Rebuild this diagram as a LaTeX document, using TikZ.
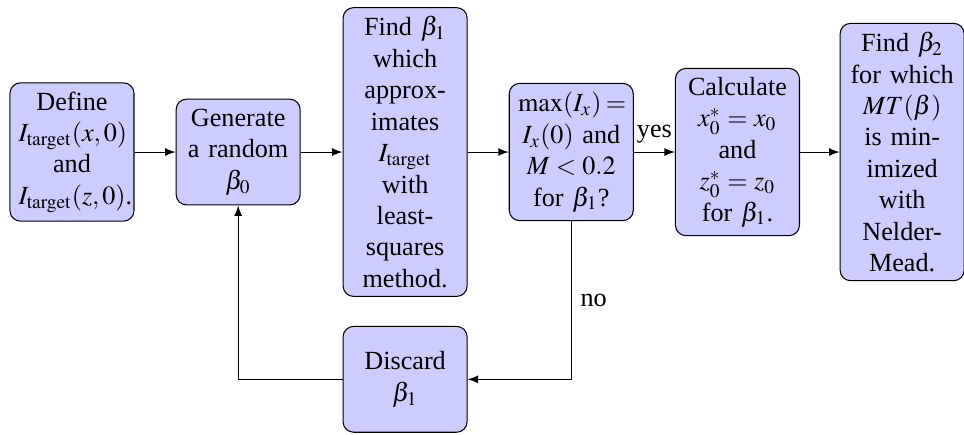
\documentclass[tikz,border=0pt]{standalone}
\usepackage{mathptmx}
\usepackage{fontspec}
\setmainfont{Liberation Serif}
\usetikzlibrary{arrows}

\tikzset{stage/.style={rectangle, draw, rounded corners, fill=blue!20, text width=1.43cm, minimum height=1.42cm, align=center}}

\begin{document}
\begin{tikzpicture}
			\useasboundingbox (-0.966,2.04) rectangle (11.97,-3.785);
			
			% Main row of stages
			\node[stage] (define) at (0,0) {Define\\$I_{\mathrm{target}}(x,0)$\\and\\$I_{\mathrm{target}}(z,0)$.};
			\node[stage] (generate) at (2.23,0) {Generate\\a random\\$\beta_0$};
			\node[stage] (fit) at (4.47,0) {Find $\beta_1$\\which\\approx-\\imates\\$I_{\mathrm{target}}$\\with\\least-\\squares\\method.};
			\node[stage] (check) at (6.70,0) {$\max(I_x) =$\\$I_x(0)$ and\\$M<0.2$\\for $\beta_1$?};
			\node[stage] (calc) at (8.93,0) {Calculate\\$x_0^* = x_0$\\and\\$z_0^* = z_0$\\for $\beta_1$.};
			\node[stage] (minimize) at (11.14,0) {Find $\beta_2$\\for which\\$MT(\beta)$\\is min-\\imized\\with\\Nelder-\\Mead.};
			
			% Loop back node
			\node[stage] (discard) at (4.47,-3.05) {Discard\\$\beta_1$};
			
			\draw[-latex] (define) -- (generate);
			\draw[-latex] (generate) -- (fit);
			\draw[-latex] (fit) -- (check);
			\draw[-latex] (check) -- node[above] {yes} (calc);
			\draw[-latex] (calc) -- (minimize);
			
			\draw[-latex] (check) |- node[pos=0.25, right] {no} (discard);
			\draw[-latex] (discard) -| (generate);
		\end{tikzpicture}
\end{document}
